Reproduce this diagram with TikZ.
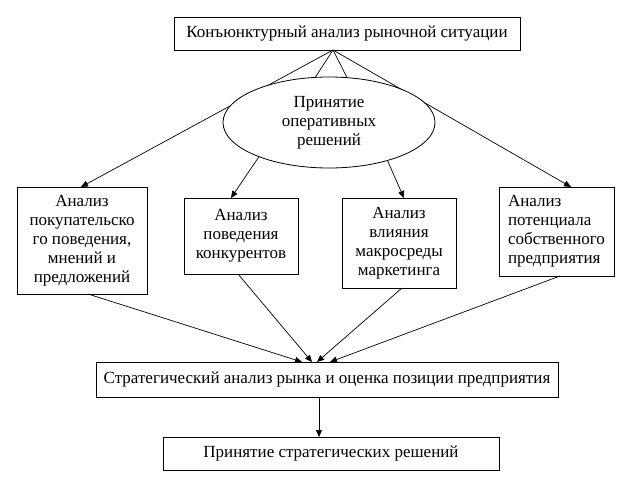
\documentclass[tikz,border=0pt]{standalone}
\usepackage{fontspec}
\setmainfont{Liberation Serif}
\usetikzlibrary{arrows.meta,shapes.geometric}
\begin{document}
\begin{tikzpicture}[x=1pt,y=-1pt,
  every node/.style={inner sep=0pt,outer sep=0pt,font=\fontsize{17}{19}\selectfont},
  box/.style={draw,line width=0.8pt,fill=white,align=center},
  conn/.style={line width=0.7pt},
  arr/.style={line width=0.7pt,-{Triangle[length=7pt,width=6pt]}}]
\useasboundingbox (0,0) rectangle (640,490);
% nodes
\node[box,minimum width=346,minimum height=33] (top) at (347,33.5) {Конъюнктурный анализ рыночной ситуации};
\node[box,minimum width=130,minimum height=107] (b1) at (82,240.5) {Анализ\\покупательско\\го поведения,\\мнений и\\предложений};
\node[box,minimum width=114,minimum height=76] (b2) at (241,236) {Анализ\\поведения\\конкурентов};
\node[box,minimum width=114,minimum height=90] (b3) at (399,243) {Анализ\\влияния\\макросреды\\маркетинга};
\node[box,align=left,minimum width=115,minimum height=89] (b4) at (556.5,231.5) {Анализ\\потенциала\\собственного\\предприятия};
\node[box,minimum width=462,minimum height=35] (b5) at (327,379.5) {Стратегический анализ рынка и оценка позиции предприятия};
\node[box,minimum width=336,minimum height=33] (b6) at (331,453.5) {Принятие стратегических решений};
% long lines behind ellipse
\draw[arr] ([xshift=-14]top.south) -- ([xshift=-1]b1.north);
\draw[arr] ([xshift=-14]top.south) -- ([xshift=14.5]b4.north);
% ellipse
\node[draw,line width=0.8pt,fill=white,ellipse,align=center,minimum width=212,minimum height=91] (ell) at (329,122.5) {Принятие\\оперативных\\решений};
\draw[conn] ([xshift=-14]top.south) -- (ell.107);
\draw[conn] ([xshift=-14]top.south) -- (ell.68);
\draw[arr] (ell.206) -- ([xshift=-10]b2.north);
\draw[arr] (ell.327) -- ([xshift=5]b3.north);
% to strategic
\draw[arr] ([xshift=6]b1.south) -- ([xshift=-25]b5.north);
\draw[arr] ([xshift=-3]b2.south) -- ([xshift=-15]b5.north);
\draw[arr] ([xshift=3]b3.south) -- ([xshift=-10]b5.north);
\draw[arr] ([xshift=3.5]b4.south) -- ([xshift=3]b5.north);
\draw[arr] ([xshift=-8]b5.south) -- ([xshift=-12]b6.north);
\end{tikzpicture}
\end{document}
